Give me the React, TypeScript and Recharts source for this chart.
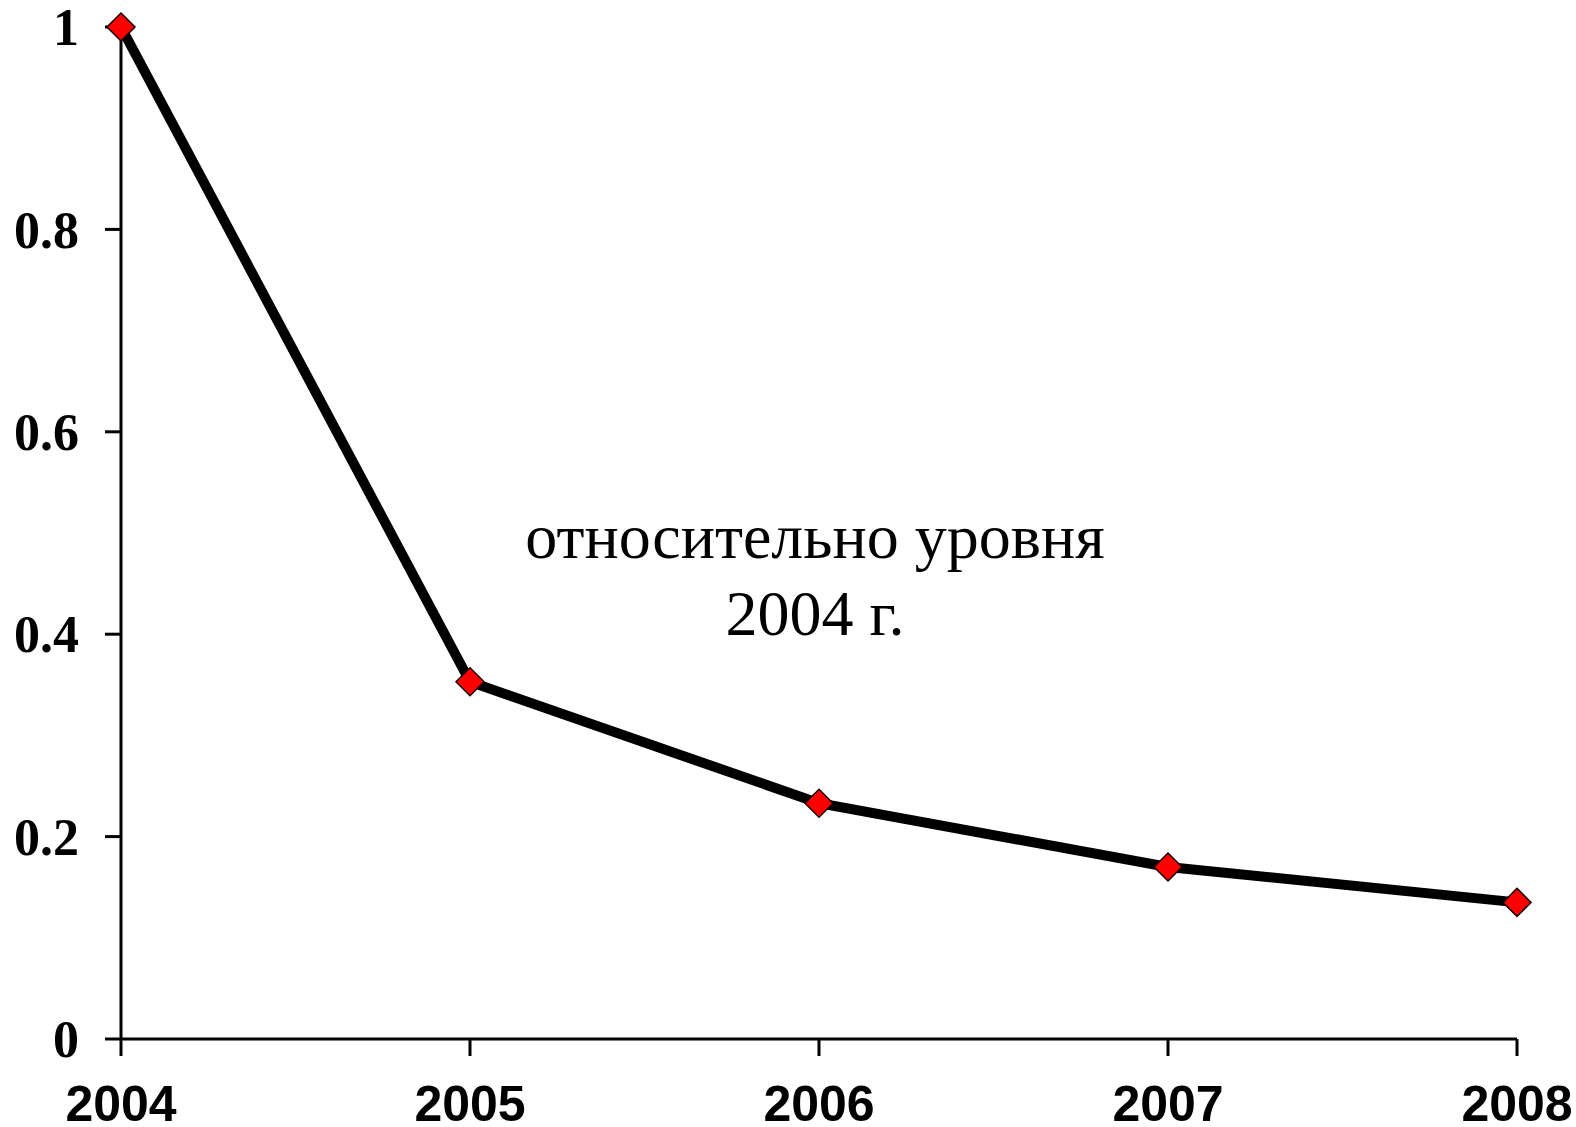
import React from 'react';
import { LineChart, Line, XAxis, YAxis } from 'recharts';

const years = ['2004', '2005', '2006', '2007', '2008'];
const relativeLevel = [1, 0.353, 0.233, 0.17, 0.135];
const yTicks = [0, 0.2, 0.4, 0.6, 0.8, 1];

const chartData = years.map((year, i) => ({ year, value: relativeLevel[i] }));

// ромбовидный маркер
const Diamond = (props: any) => {
  const { cx, cy } = props;
  if (cx == null || cy == null) return null;
  const r = 14;
  return (
    <polygon
      points={`${cx},${cy - r} ${cx + r},${cy} ${cx},${cy + r} ${cx - r},${cy}`}
      fill="#ff0000"
      stroke="#1a0000"
      strokeWidth={1.5}
    />
  );
};

const XTick = (props: any) => {
  const { x, y, payload } = props;
  return (
    <text
      x={x}
      y={y + 65}
      textAnchor="middle"
      fontFamily="'Liberation Sans', Arial, sans-serif"
      fontWeight="bold"
      fontSize={50}
      fill="#000"
    >
      {payload.value}
    </text>
  );
};

const YTick = (props: any) => {
  const { x, y, payload } = props;
  return (
    <text
      x={x}
      y={y}
      dy="0.35em"
      textAnchor="end"
      fontFamily="'Liberation Serif', 'Times New Roman', serif"
      fontWeight="bold"
      fontSize={52}
      fill="#000"
    >
      {String(payload.value)}
    </text>
  );
};

export default function App() {
  return (
    <div style={{ position: 'absolute', left: 0, top: 0, width: 1576, height: 1127, background: '#fff' }}>
      <LineChart
        width={1576}
        height={1127}
        data={chartData}
        margin={{ top: 27, right: 59, bottom: 0, left: 0 }}
      >
        <XAxis
          dataKey="year"
          height={88}
          tickSize={17}
          tickMargin={0}
          axisLine={{ stroke: '#000', strokeWidth: 3 }}
          tickLine={{ stroke: '#000', strokeWidth: 3 }}
          tick={<XTick />}
          interval={0}
        />
        <YAxis
          domain={[0, 1]}
          ticks={yTicks}
          width={121}
          tickSize={16}
          tickMargin={26}
          axisLine={{ stroke: '#000', strokeWidth: 3 }}
          tickLine={{ stroke: '#000', strokeWidth: 3 }}
          tick={<YTick />}
        />
        <Line
          type="linear"
          dataKey="value"
          stroke="#000"
          strokeWidth={10}
          dot={<Diamond />}
          activeDot={false}
          isAnimationActive={false}
        />
      </LineChart>
      <div
        style={{
          position: 'absolute',
          left: 500,
          top: 498,
          width: 630,
          textAlign: 'center',
          fontFamily: "'Liberation Serif', 'Times New Roman', serif",
          fontSize: 64,
          lineHeight: '77px',
          color: '#000',
        }}
      >
        относительно уровня
        <br />
        2004 г.
      </div>
    </div>
  );
}
